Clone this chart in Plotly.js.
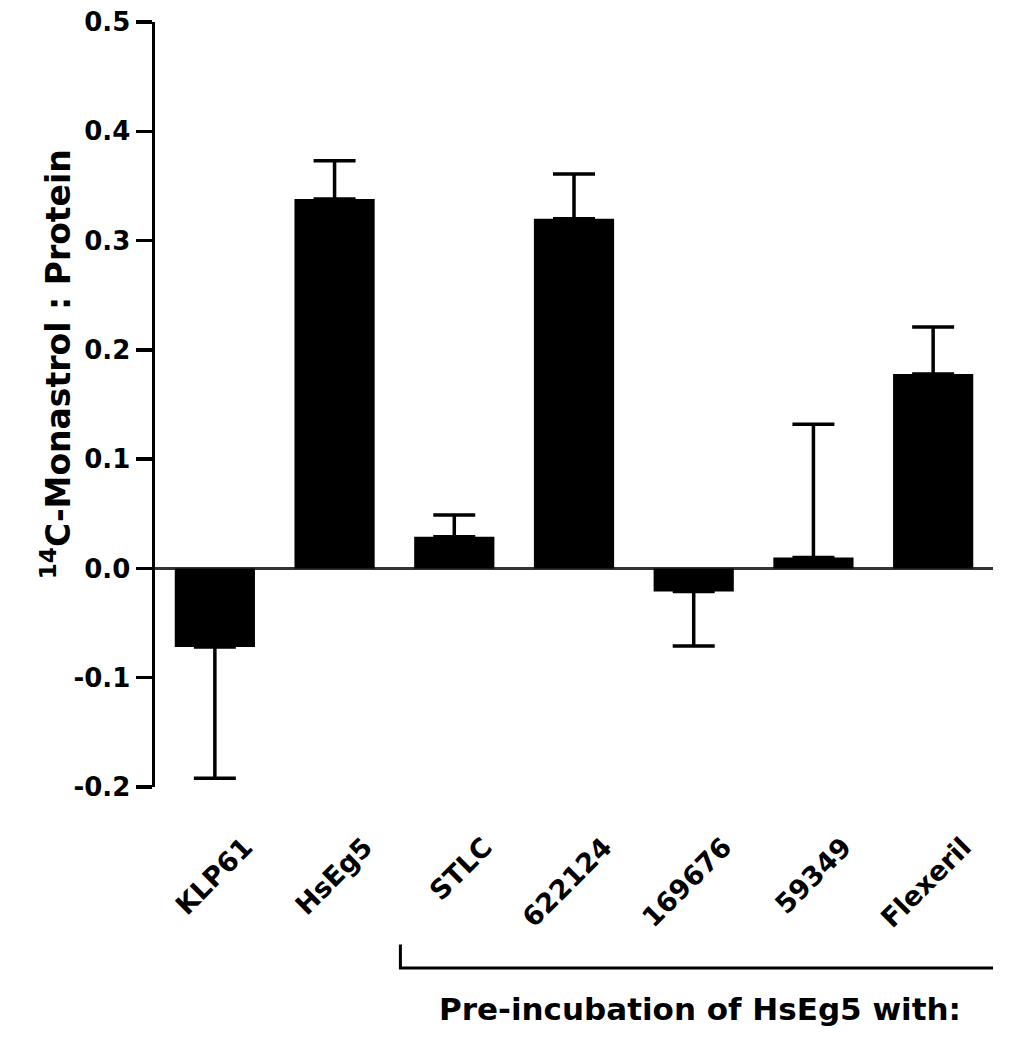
<!DOCTYPE html>
<html>
<head>
<meta charset="utf-8">
<script src="https://cdn.plot.ly/plotly-3.0.1.min.js"></script>
<style>html,body{margin:0;padding:0;background:#fff;}#chart{width:1014px;height:1050px;}</style>
</head>
<body>
<div id="chart"></div>
<script>
const categories = ["KLP61", "HsEg5", "STLC", "622124", "169676", "59349", "Flexeril"];
const values = [-0.072, 0.338, 0.029, 0.320, -0.021, 0.010, 0.178];
const errors = [0.120, 0.035, 0.020, 0.041, 0.050, 0.122, 0.043];
const yTickVals = [-0.2, -0.1, 0.0, 0.1, 0.2, 0.3, 0.4, 0.5];
const yTickText = ["-0.2", "-0.1", "0.0", "0.1", "0.2", "0.3", "0.4", "0.5"];
const yTitle = "<sup>14</sup>C-Monastrol : Protein";
const groupLabel = "Pre-incubation of HsEg5 with:";
const groupStart = 2, groupEnd = 6;

const errUp = values.map((v, i) => v >= 0 ? errors[i] : 0);
const errDown = values.map((v, i) => v < 0 ? errors[i] : 0);
const FONT = "DejaVu Sans, sans-serif";

const trace = {
  type: "bar",
  x: categories.map((c, i) => i),
  y: values,
  width: 0.67,
  marker: {color: "#000", line: {width: 0}},
  error_y: {type: "data", symmetric: false, array: errUp, arrayminus: errDown,
            color: "#000", thickness: 3.5, width: 21},
  hoverinfo: "skip"
};

const layout = {
  width: 1014, height: 1050,
  margin: {l: 155, r: 21, t: 22, b: 263},
  paper_bgcolor: "#fff", plot_bgcolor: "#fff",
  showlegend: false,
  font: {family: FONT, color: "#000"},
  xaxis: {
    range: [-0.5, 6.5],
    tickmode: "array", tickvals: categories.map((c, i) => i), ticktext: categories,
    tickangle: -45, ticks: "", showline: false, showgrid: false, zeroline: false,
    ticklabelshift: 30, ticklabelstandoff: 38,
    tickfont: {family: FONT, size: 27, color: "#000", weight: "bold"}
  },
  yaxis: {
    range: [-0.2, 0.5], tickmode: "array", tickvals: yTickVals, ticktext: yTickText,
    showline: true, linecolor: "#000", linewidth: 3.5,
    ticks: "outside", ticklen: 16, tickwidth: 3.5, tickcolor: "#000",
    showgrid: false, zeroline: true, zerolinecolor: "#333", zerolinewidth: 3,
    tickfont: {family: FONT, size: 26, color: "#000", weight: "bold"}
  },
  shapes: [
    {type: "path", xref: "x", yref: "paper",
     path: "M" + (groupStart - 0.45) + ",-0.206 L" + (groupStart - 0.45) + ",-0.2366 L" + (groupEnd + 0.55) + ",-0.2366 L" + (groupEnd + 0.55) + ",-0.206",
     line: {color: "#000", width: 3}}
  ],
  annotations: [
    {text: yTitle, xref: "paper", yref: "paper", x: 0, y: 0.552, xshift: -122,
     textangle: -90, showarrow: false,
     font: {family: FONT, size: 33, color: "#000", weight: "bold"}},
    {text: groupLabel, xref: "x", yref: "paper", x: (groupStart + groupEnd) / 2 + 0.05, y: -0.316,
     showarrow: false,
     font: {family: FONT, size: 31, color: "#000", weight: "bold"}}
  ]
};

Plotly.newPlot("chart", [trace], layout, {staticPlot: true, displayModeBar: false});
</script>
</body>
</html>
